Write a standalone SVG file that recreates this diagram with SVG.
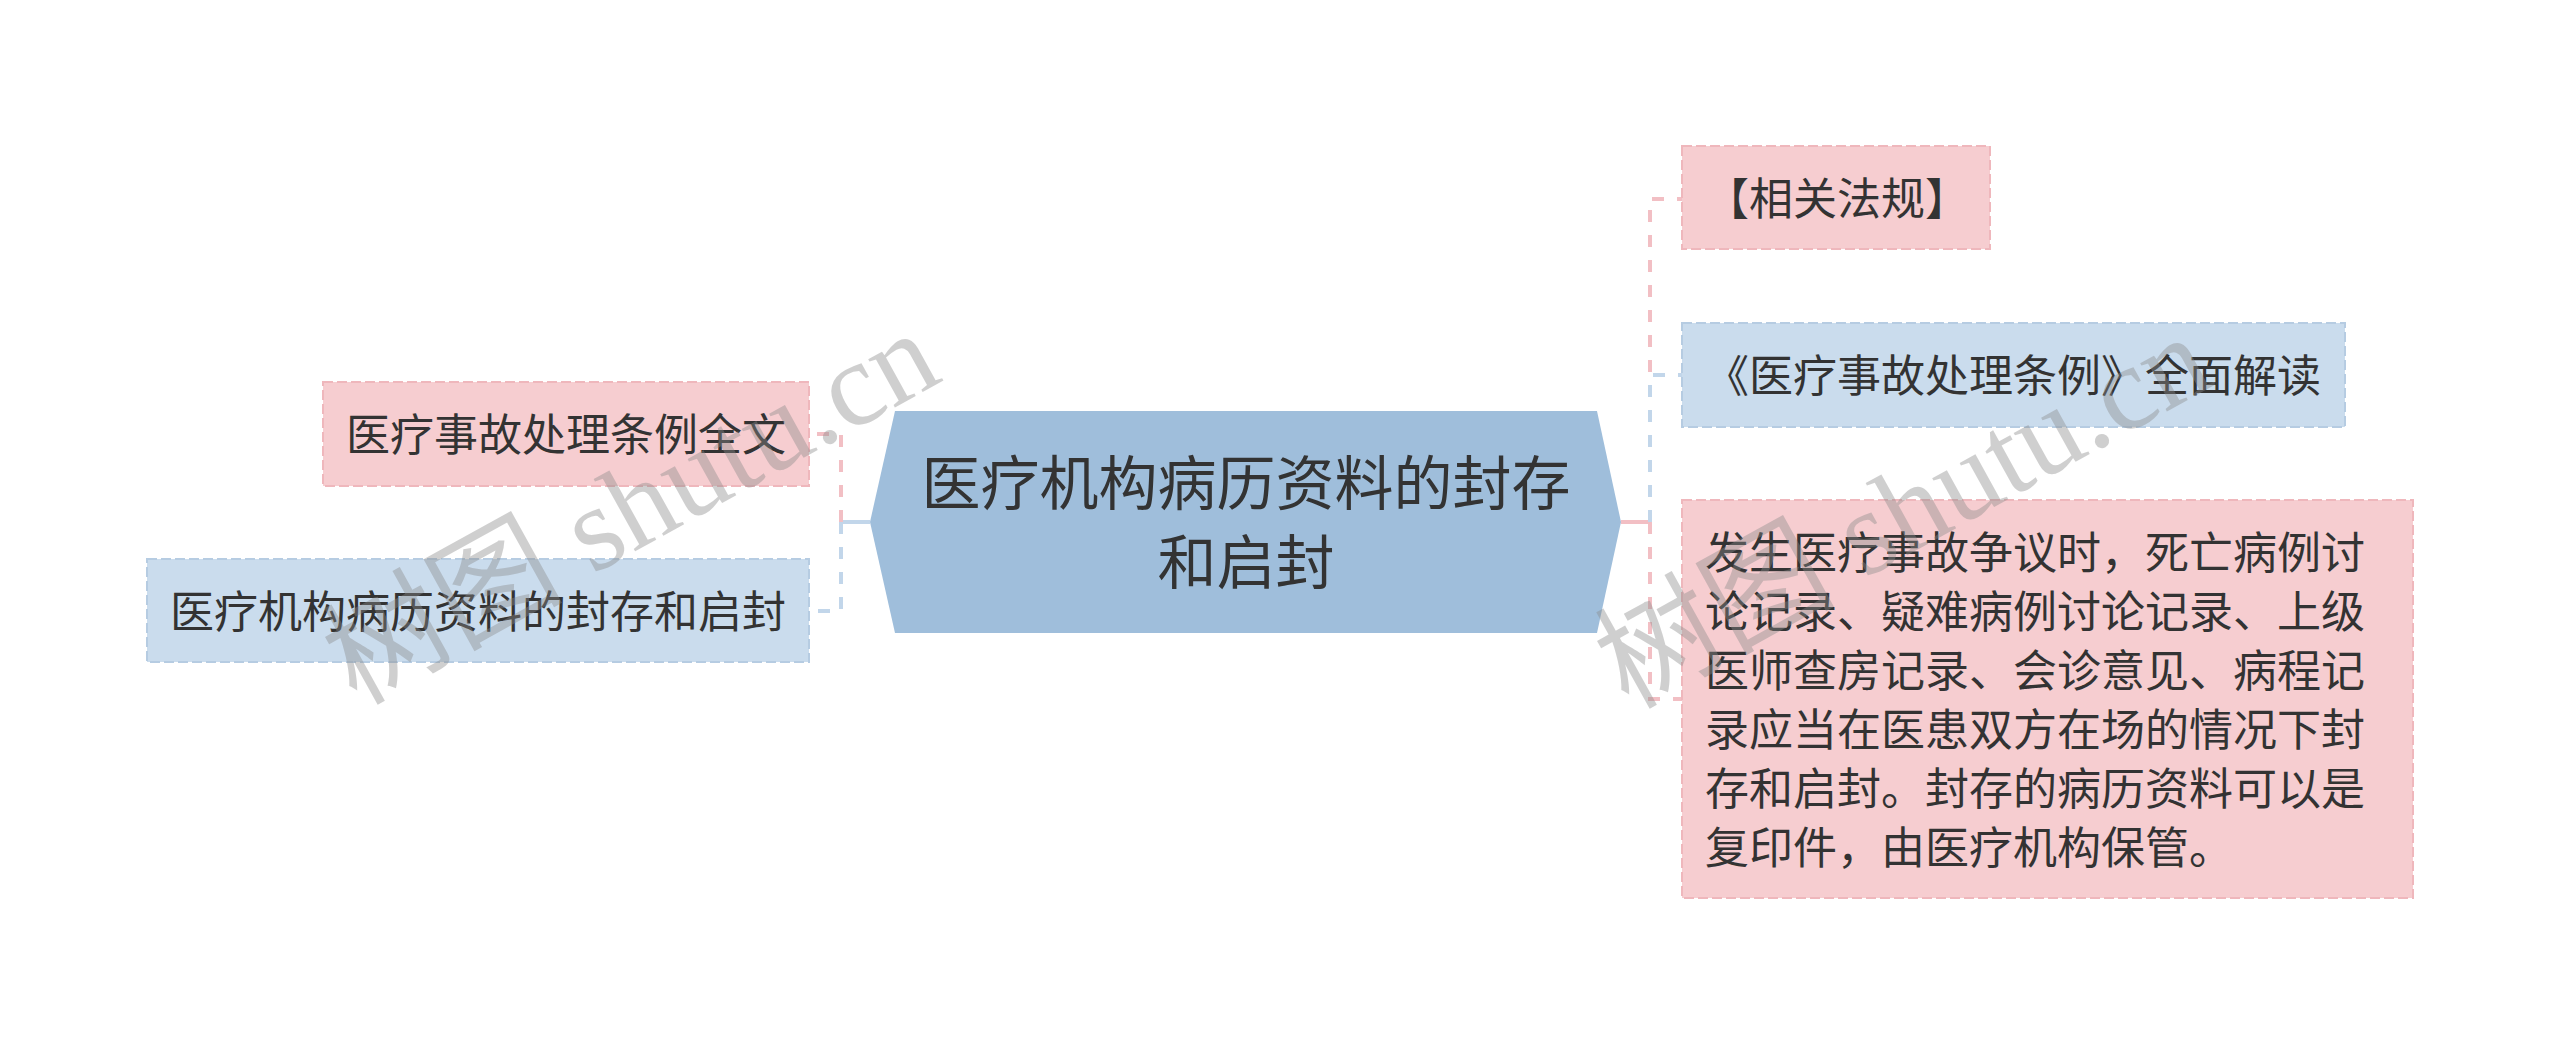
<svg xmlns="http://www.w3.org/2000/svg" width="2560" height="1045" viewBox="0 0 2560 1045">
<style>
.t{font-family:"Noto Sans CJK SC","Noto Sans",sans-serif;fill:#333333;}
.n{font-size:44px;}
.c{font-size:59px;}
.pink{fill:#f6cdd0;stroke:#efb7bc;stroke-width:2;stroke-dasharray:10 4;}
.blue{fill:#cadced;stroke:#b6cce2;stroke-width:2;stroke-dasharray:10 4;}
.cp{fill:none;stroke:#f2bfc4;stroke-width:4;stroke-dasharray:12 13;}
.cb{fill:none;stroke:#c2d6ea;stroke-width:4;stroke-dasharray:12 13;}
.wm{font-family:"Liberation Serif","Noto Sans CJK SC",serif;font-size:120px;fill:#8a8a8a;opacity:0.4;}
</style>
<rect width="2560" height="1045" fill="#ffffff"/>
<g id="connectors">
<path d="M870 522 H841" fill="none" stroke="#c2d6ea" stroke-width="4"/>
<path class="cp" d="M841 522 V434 H810"/>
<path class="cb" d="M841 522 V611 H810"/>
<path d="M1621 522 H1650" fill="none" stroke="#f2bfc4" stroke-width="4"/>
<path class="cp" d="M1650 522 V199 H1682"/>
<path class="cb" d="M1650 522 V375 H1682"/>
<path class="cp" d="M1650 522 V699 H1682"/>
</g>
<g id="center">
<polygon points="870,522 895,411 1597,411 1621,522 1597,633 895,633" fill="#9fbedb"/>
<text class="t c" x="1246" y="505" text-anchor="middle">医疗机构病历资料的封存</text>
<text class="t c" x="1246" y="584" text-anchor="middle">和启封</text>
</g>
<g id="left1">
<rect class="pink" x="323" y="382" width="486" height="104"/>
<text class="t n" x="566" y="451" text-anchor="middle">医疗事故处理条例全文</text>
</g>
<g id="left2">
<rect class="blue" x="147" y="559" width="662" height="103"/>
<text class="t n" x="478" y="628" text-anchor="middle">医疗机构病历资料的封存和启封</text>
</g>
<g id="right1">
<rect class="pink" x="1682" y="146" width="308" height="103"/>
<text class="t n" x="1705" y="215">【相关法规】</text>
</g>
<g id="right2">
<rect class="blue" x="1682" y="323" width="663" height="104"/>
<text class="t n" x="1705" y="392">《医疗事故处理条例》全面解读</text>
</g>
<g id="right3">
<rect class="pink" x="1682" y="500" width="731" height="398"/>
<text class="t n" x="1705" y="569">发生医疗事故争议时，死亡病例讨</text>
<text class="t n" x="1705" y="628">论记录、疑难病例讨论记录、上级</text>
<text class="t n" x="1705" y="687">医师查房记录、会诊意见、病程记</text>
<text class="t n" x="1705" y="746">录应当在医患双方在场的情况下封</text>
<text class="t n" x="1705" y="805">存和启封。封存的病历资料可以是</text>
<text class="t n" x="1705" y="864">复印件，由医疗机构保管。</text>
</g>
<g id="watermarks">
<text class="wm" transform="translate(356,706) rotate(-29)">树图 shutu.cn</text>
<text class="wm" transform="translate(1628,710) rotate(-29)">树图 shutu.cn</text>
</g>
</svg>
